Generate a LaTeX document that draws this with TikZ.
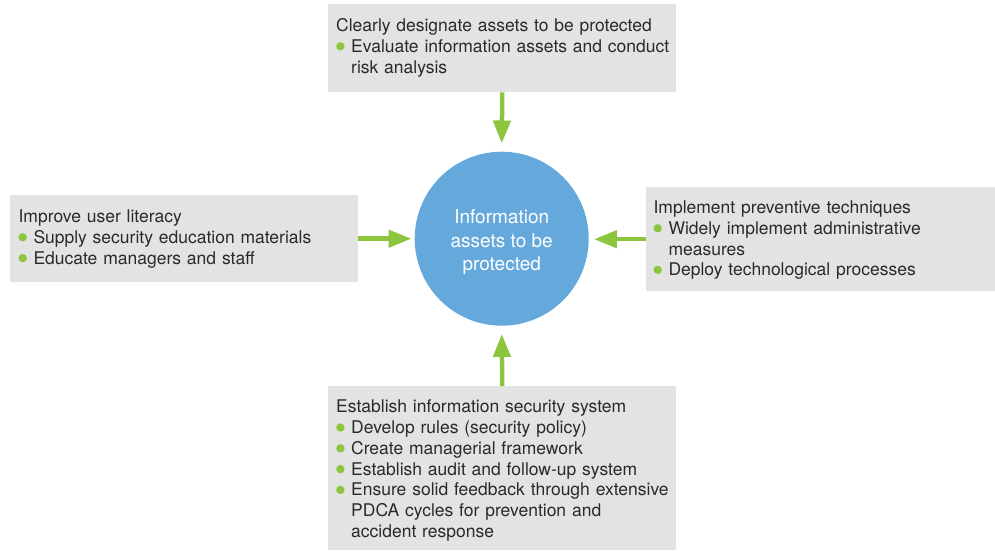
\documentclass[tikz,border=0pt]{standalone}
\usepackage{fontspec}
\setmainfont{TeX Gyre Heros}
\usetikzlibrary{arrows.meta}
\definecolor{leaf}{HTML}{8CC63F}
\definecolor{sky}{HTML}{65A9DC}
\definecolor{panelgray}{HTML}{E3E3E3}
\definecolor{ink}{HTML}{2A2A2A}
\newcommand{\dotitem}[1]{\par\noindent\makebox[15pt][l]{\tikz[baseline=-6pt]\fill[leaf] (3.8pt,0pt) circle[radius=4.2pt];}#1}
\newcommand{\moreline}[1]{\par\noindent\hspace*{15pt}#1}

\begin{document}
\begin{tikzpicture}[x=1pt,y=-1pt,
  panel/.style={fill=panelgray,inner sep=0pt,anchor=north west},
  paneltext/.style={inner sep=0pt,anchor=north west,text width=340pt,text=ink,
    font=\fontsize{17.5}{20.8}\selectfont\raggedright},
  feed/.style={draw=leaf,line width=4.5pt,-{Triangle[width=17pt,length=23pt]}}]
 \useasboundingbox (0,0) rectangle (995,550);
 % goal in the middle
 \node[circle,fill=sky,inner sep=0pt,minimum size=174pt] (hub) at (501.7,238.7) {};
 \node[align=center,text=white,font=\fontsize{19}{23.5}\selectfont] (hubtext) at (501.7,242.5)
   {Information\\assets to be\\protected};
 % the four measures
 \node[panel,minimum width=348pt,minimum height=88pt] (top) at (328,4) {};
 \node[panel,minimum width=348pt,minimum height=87pt] (left) at (10,195) {};
 \node[panel,minimum width=349pt,minimum height=104pt] (right) at (646,187) {};
 \node[panel,minimum width=348pt,minimum height=164pt] (bottom) at (328,386) {};
 \node[paneltext] (toptext) at (336,18.2) {Clearly designate assets to be protected
   \dotitem{Evaluate information assets and conduct}
   \moreline{risk analysis}};
 \node[paneltext] (lefttext) at (18.3,209.5) {Improve user literacy
   \dotitem{Supply security education materials}
   \dotitem{Educate managers and staff}};
 \node[paneltext] (righttext) at (653.3,200.5) {Implement preventive techniques
   \dotitem{Widely implement administrative}
   \moreline{measures}
   \dotitem{Deploy technological processes}};
 \node[paneltext] (bottomtext) at (336,399.7) {Establish information security system
   \dotitem{Develop rules (security policy)}
   \dotitem{Create managerial framework}
   \dotitem{Establish audit and follow-up system}
   \dotitem{Ensure solid feedback through extensive}
   \moreline{PDCA cycles for prevention and}
   \moreline{accident response}};
 % arrows towards the goal
 \draw[feed,shorten >=8pt] (top.south) -- (hub.north);
 \draw[feed,shorten >=3pt] (left.east) -- (left.east -| hub.west);
 \draw[feed,shorten >=5pt] (right.west) -- (right.west -| hub.east);
 \draw[feed,shorten >=8pt] (bottom.north) -- (hub.south);
\end{tikzpicture}
\end{document}
